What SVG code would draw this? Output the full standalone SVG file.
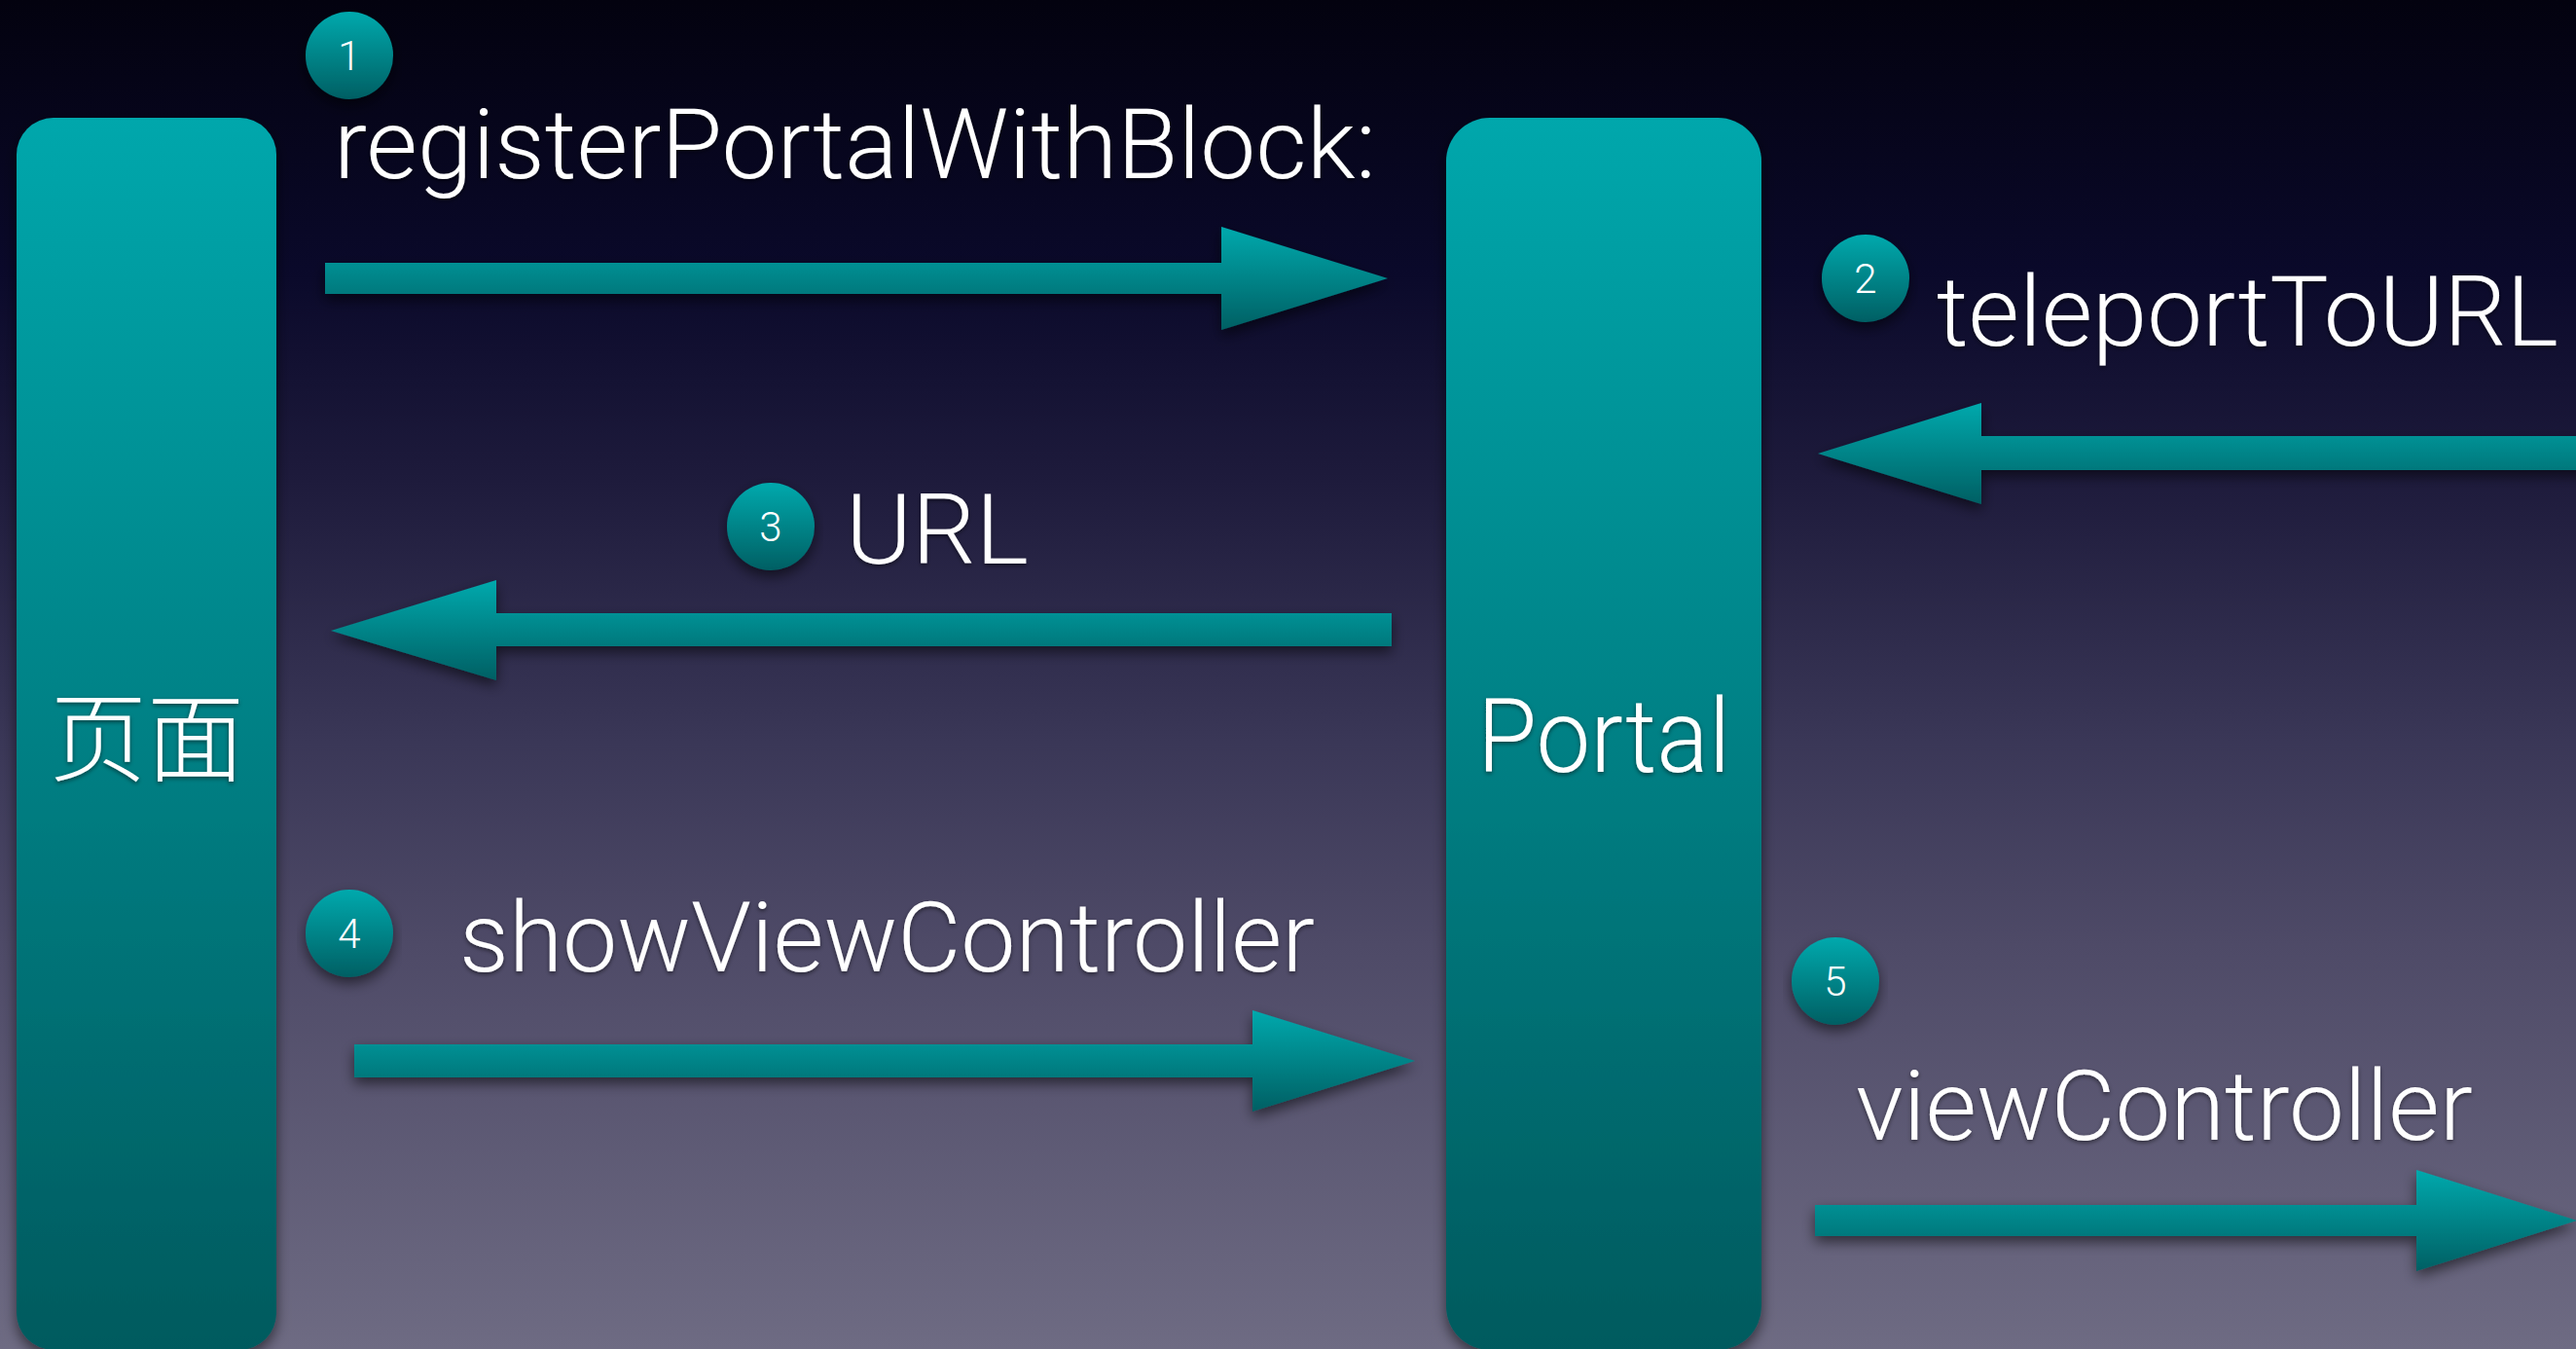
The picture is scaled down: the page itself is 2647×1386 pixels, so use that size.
<svg xmlns="http://www.w3.org/2000/svg" width="2647" height="1386" viewBox="0 0 2647 1386">
  <defs>
    <linearGradient id="bg" x1="0" y1="0" x2="0" y2="1">
      <stop offset="0" stop-color="#03020f"/>
      <stop offset="0.2" stop-color="#0a092a"/>
      <stop offset="0.35" stop-color="#1d1a3b"/>
      <stop offset="0.55" stop-color="#3a3757"/>
      <stop offset="0.7" stop-color="#4e4a67"/>
      <stop offset="1" stop-color="#6e6b83"/>
    </linearGradient>
    <linearGradient id="bar" x1="0" y1="0" x2="0" y2="1">
      <stop offset="0" stop-color="#00a7ac"/>
      <stop offset="1" stop-color="#005a5e"/>
    </linearGradient>
    <linearGradient id="shape" x1="0" y1="0" x2="0" y2="1">
      <stop offset="0" stop-color="#00a9ad"/>
      <stop offset="1" stop-color="#005f63"/>
    </linearGradient>
    <filter id="shadow" x="-10%" y="-20%" width="120%" height="150%">
      <feDropShadow dx="0" dy="6" stdDeviation="7" flood-color="#000" flood-opacity="0.55"/>
    </filter>
    <filter id="tshadow" x="-5%" y="-20%" width="110%" height="150%">
      <feDropShadow dx="0" dy="2" stdDeviation="2" flood-color="#000" flood-opacity="0.5"/>
    </filter>
  </defs>
  <style>
    .bar { fill: url(#bar); filter: url(#shadow); }
    .arrow { fill: url(#shape); filter: url(#shadow); }
    .badge { fill: url(#shape); filter: url(#shadow); }
    .num { fill: #ffffff; font-family: Roboto, "Liberation Sans", sans-serif; font-weight: 300; font-size: 42px; text-anchor: middle; }
    .label { fill: #ffffff; font-family: Roboto, "Liberation Sans", sans-serif; font-weight: 300; font-size: 100px; filter: url(#tshadow); }
    .title { fill: #ffffff; font-family: Roboto, "Liberation Sans", sans-serif; font-weight: 300; font-size: 106px; filter: url(#tshadow); }
    .cjk { fill: #ffffff; font-family: "Noto Sans CJK SC", sans-serif; font-weight: 300; font-size: 100px; text-anchor: middle; filter: url(#tshadow); }
  </style>
  <rect x="0" y="0" width="2647" height="1386" fill="url(#bg)"/>

  <g id="node-page">
    <rect class="bar" x="17" y="121" width="267" height="1266" rx="38" ry="38"/>
    <text class="cjk" x="151" y="795">页面</text>
  </g>

  <g id="node-portal">
    <rect class="bar" x="1486" y="121" width="324" height="1266" rx="45" ry="45"/>
    <text class="title" x="1518" y="793" textLength="260" lengthAdjust="spacingAndGlyphs">Portal</text>
  </g>

  <g id="connectors">
    <g id="edge-1">
      <polygon class="arrow" points="334,270 1255,270 1255,233 1426,286 1255,339 1255,302 334,302"/>
    </g>
    <g id="edge-2">
      <polygon class="arrow" points="2660,448 2036,448 2036,414 1868,466 2036,518 2036,483 2660,483"/>
    </g>
    <g id="edge-3">
      <polygon class="arrow" points="1430,630 510,630 510,596 340,648 510,699 510,664 1430,664"/>
    </g>
    <g id="edge-4">
      <polygon class="arrow" points="364,1073 1287,1073 1287,1038 1454,1090 1287,1142 1287,1107 364,1107"/>
    </g>
    <g id="edge-5">
      <polygon class="arrow" points="1865,1238 2483,1238 2483,1202 2648,1254 2483,1306 2483,1270 1865,1270"/>
    </g>
  </g>

  <g id="label-1">
    <circle class="badge" cx="359" cy="57" r="45"/>
    <text class="num" x="359" y="72">1</text>
    <text class="label" x="343" y="183" textLength="1071" lengthAdjust="spacingAndGlyphs">registerPortalWithBlock:</text>
  </g>
  <g id="label-2">
    <circle class="badge" cx="1917" cy="286" r="45"/>
    <text class="num" x="1917" y="301">2</text>
    <text class="label" x="1990" y="355" textLength="639" lengthAdjust="spacingAndGlyphs">teleportToURL</text>
  </g>
  <g id="label-3">
    <circle class="badge" cx="792" cy="541" r="45"/>
    <text class="num" x="792" y="556">3</text>
    <text class="label" x="869" y="579" textLength="188" lengthAdjust="spacingAndGlyphs">URL</text>
  </g>
  <g id="label-4">
    <circle class="badge" cx="359" cy="959" r="45"/>
    <text class="num" x="359" y="974">4</text>
    <text class="label" x="472" y="998" textLength="879" lengthAdjust="spacingAndGlyphs">showViewController</text>
  </g>
  <g id="label-5">
    <circle class="badge" cx="1886" cy="1008" r="45"/>
    <text class="num" x="1886" y="1023">5</text>
    <text class="label" x="1907" y="1171" textLength="634" lengthAdjust="spacingAndGlyphs">viewController</text>
  </g>
</svg>
